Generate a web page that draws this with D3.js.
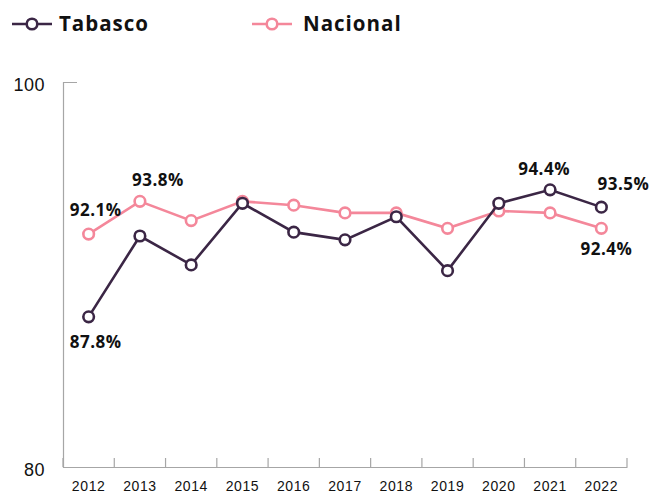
<!DOCTYPE html>
<html>
<head>
<meta charset="utf-8">
<script src="https://cdn.jsdelivr.net/npm/d3@7"></script>
<style>
  body { margin: 0; background: #fff; }
  svg { display: block; font-family: "Open Sans", "DejaVu Sans", sans-serif; }
</style>
</head>
<body>
<div id="chart"></div>
<script>
const years = ["2012", "2013", "2014", "2015", "2016", "2017", "2018", "2019", "2020", "2021", "2022"]
const tabasco = [87.8, 92.0, 90.5, 93.7, 92.2, 91.8, 93.0, 90.2, 93.7, 94.4, 93.5]
const nacional = [92.1, 93.8, 92.8, 93.8, 93.6, 93.2, 93.2, 92.4, 93.3, 93.2, 92.4]
const yTicks = [80, 100]

const width = 654
const height = 494
const colorTab = "#3b2645"
const colorNac = "#f4879a"

const svg = d3.select("#chart").append("svg")
    .attr("width", width)
    .attr("height", height)

const x = d3.scaleBand().domain(years).range([63, 627])
const y = d3.scaleLinear().domain([80, 100]).range([467, 82])
const cx = d => x(d) + x.bandwidth() / 2

// y axis
const yAxis = svg.append("g").attr("transform", "translate(63,0)")
    .call(d3.axisLeft(y).tickValues(yTicks).tickSizeInner(0).tickSizeOuter(-14).tickPadding(18))
yAxis.select(".domain").attr("stroke", "#a6a6a6").attr("stroke-width", 1.2)
yAxis.selectAll("text").attr("font-size", 18).attr("fill", "#111").attr("dy", "0.45em")
    .attr("letter-spacing", 0.5)

// x axis
const xAxis = svg.append("g").attr("transform", "translate(0,467)")
    .call(d3.axisBottom(x).tickSize(0).tickPadding(14))
xAxis.select(".domain").attr("stroke", "#a6a6a6").attr("stroke-width", 1.2)
xAxis.selectAll("text").attr("font-size", 14).attr("fill", "#111").attr("letter-spacing", 0.6)
const bounds = years.map(d => x(d)).concat([x.range()[1]])
svg.append("g").selectAll("line")
    .data(bounds)
    .join("line")
    .attr("x1", d => d).attr("x2", d => d)
    .attr("y1", 467).attr("y2", 458)
    .attr("stroke", "#a6a6a6")
    .attr("stroke-width", 1.2)

// series
const line = d3.line().x((d, i) => cx(years[i])).y(d => y(d))
function drawSeries(values, color) {
    svg.append("path")
        .datum(values)
        .attr("d", line)
        .attr("fill", "none")
        .attr("stroke", color)
        .attr("stroke-width", 2.6)
    svg.append("g").selectAll("circle")
        .data(values)
        .join("circle")
        .attr("cx", (d, i) => cx(years[i]))
        .attr("cy", d => y(d))
        .attr("r", 5.3)
        .attr("fill", "#fff")
        .attr("stroke", color)
        .attr("stroke-width", 2.6)
}
drawSeries(nacional, colorNac)
drawSeries(tabasco, colorTab)

// value labels
const labels = [
    { s: nacional, i: 0, dx: 7, dy: -24 },
    { s: nacional, i: 1, dx: 18, dy: -21 },
    { s: tabasco, i: 0, dx: 7, dy: 25 },
    { s: tabasco, i: 9, dx: -6, dy: -21 },
    { s: tabasco, i: 10, dx: 22, dy: -23 },
    { s: nacional, i: 10, dx: 5, dy: 21 }
]
svg.append("g").selectAll("text")
    .data(labels)
    .join("text")
    .attr("x", d => cx(years[d.i]) + d.dx)
    .attr("y", d => y(d.s[d.i]) + d.dy)
    .attr("dy", "0.35em")
    .attr("text-anchor", "middle")
    .attr("font-size", 17)
    .attr("font-weight", 700)
    .attr("letter-spacing", 0.5)
    .attr("fill", "#111")
    .text(d => d.s[d.i].toFixed(1) + "%")

// legend
const legend = [
    { name: "Tabasco", color: colorTab, x: 12, tx: 47 },
    { name: "Nacional", color: colorNac, x: 252, tx: 51 }
]
const lg = svg.append("g").selectAll("g")
    .data(legend)
    .join("g")
    .attr("transform", d => `translate(${d.x},24)`)
lg.append("line").attr("x1", 0).attr("x2", 40).attr("stroke", d => d.color).attr("stroke-width", 2.6)
lg.append("circle").attr("cx", 20).attr("r", 5.3).attr("fill", "#fff")
    .attr("stroke", d => d.color).attr("stroke-width", 2.6)
lg.append("text").attr("x", d => d.tx).attr("dy", "0.36em")
    .attr("font-size", 20.5).attr("font-weight", 700).attr("letter-spacing", 1)
    .attr("fill", "#111")
    .text(d => d.name)
</script>
</body>
</html>
